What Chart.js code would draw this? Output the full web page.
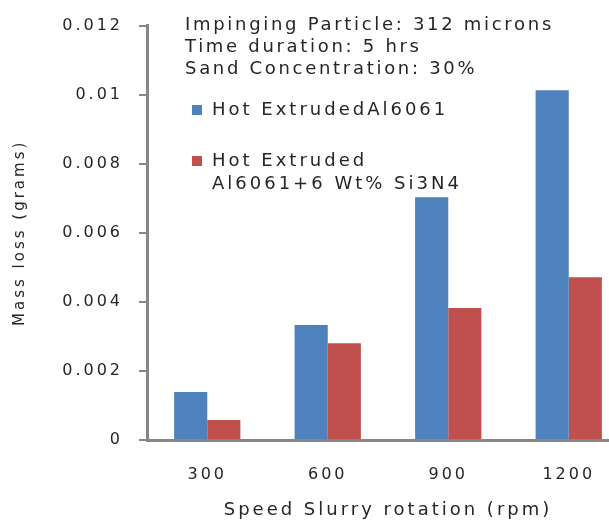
<!DOCTYPE html>
<html>
<head>
<meta charset="utf-8">
<script src="https://cdn.jsdelivr.net/npm/chart.js@4.4.1/dist/chart.umd.min.js"></script>
<style>
  html,body{margin:0;padding:0;background:#fff;overflow:hidden;}
  canvas{display:block;}
</style>
</head>
<body>
<canvas id="c" width="640" height="524"></canvas>
<script>
// valores
const speeds = ['300', '600', '900', '1200'];
const lossAl = [0.00139, 0.00333, 0.00703, 0.01013];
const lossComp = [0.00058, 0.0028, 0.00382, 0.00471];
const yTicks = [0, 0.002, 0.004, 0.006, 0.008, 0.01, 0.012];
const notes = ['Impinging Particle: 312 microns', 'Time duration: 5 hrs', 'Sand Concentration: 30%'];
const labelAl = ['Hot ExtrudedAl6061'];
const labelComp = ['Hot Extruded', 'Al6061+6 Wt% Si3N4'];

const FONT = "'DejaVu Sans', sans-serif";
const SPACING = '3px';
const TXT = '#262626';

// el texto del original es muy ancho, se abre con letterSpacing
const spacing = {
  id: 'spacing',
  beforeLayout(chart){ chart.ctx.letterSpacing = SPACING; },
  beforeDraw(chart){ chart.ctx.letterSpacing = SPACING; }
};

// notas y leyenda dentro del area
const notas = {
  id: 'notas',
  afterDraw(chart){
    const ctx = chart.ctx;
    ctx.save();
    ctx.font = '18px ' + FONT;
    ctx.textBaseline = 'middle';
    ctx.fillStyle = TXT;
    ctx.letterSpacing = '2.7px';
    notes.forEach((t, i) => ctx.fillText(t, 185, 25 + i*22));
    ctx.letterSpacing = SPACING;
    const ys = [110, 161];
    chart.data.datasets.forEach((ds, i) => {
      ctx.fillStyle = ds.backgroundColor;
      ctx.fillRect(192, ys[i] - 5, 10, 10);
      ctx.fillStyle = TXT;
      ds.lines.forEach((l, j) => ctx.fillText(l, 212, ys[i] + j*23));
    });
    ctx.restore();
  }
};

new Chart(document.getElementById('c'), {
  type: 'bar',
  data: {
    labels: speeds,
    datasets: [
      {label: labelAl.join(' '), lines: labelAl, data: lossAl, backgroundColor: '#4F81BD'},
      {label: labelComp.join(' '), lines: labelComp, data: lossComp, backgroundColor: '#C0504D'}
    ]
  },
  options: {
    responsive: false,
    animation: false,
    layout: {padding: {top: 25, right: 11, left: 0, bottom: 0}},
    plugins: {legend: {display: false}, tooltip: {enabled: false}},
    datasets: {bar: {barPercentage: 1, categoryPercentage: 0.55}},
    scales: {
      x: {
        grid: {display: false, drawTicks: false},
        border: {display: true, color: '#868686', width: 3},
        ticks: {color: TXT, font: {family: FONT, size: 16}, padding: 25},
        title: {display: true, text: 'Speed Slurry rotation (rpm)', color: TXT,
                font: {family: FONT, size: 18}, padding: {top: 0, bottom: 3}},
        afterFit(s){ s.height = 84; }
      },
      y: {
        min: 0, max: 0.012,
        afterBuildTicks(s){ s.ticks = yTicks.map(v => ({value: v})); },
        grid: {drawOnChartArea: false, drawTicks: true, tickLength: 8, color: '#868686', lineWidth: 2},
        border: {display: true, color: '#868686', width: 3},
        ticks: {color: TXT, font: {family: FONT, size: 16}, padding: 16,
                callback: v => String(+v.toFixed(3))},
        title: {display: true, text: 'Mass loss (grams)', color: TXT,
                font: {family: FONT, size: 15}, padding: {top: 11, bottom: 0}},
        afterFit(s){ s.width = 147; }
      }
    }
  },
  plugins: [spacing, notas]
});
</script>
</body>
</html>
